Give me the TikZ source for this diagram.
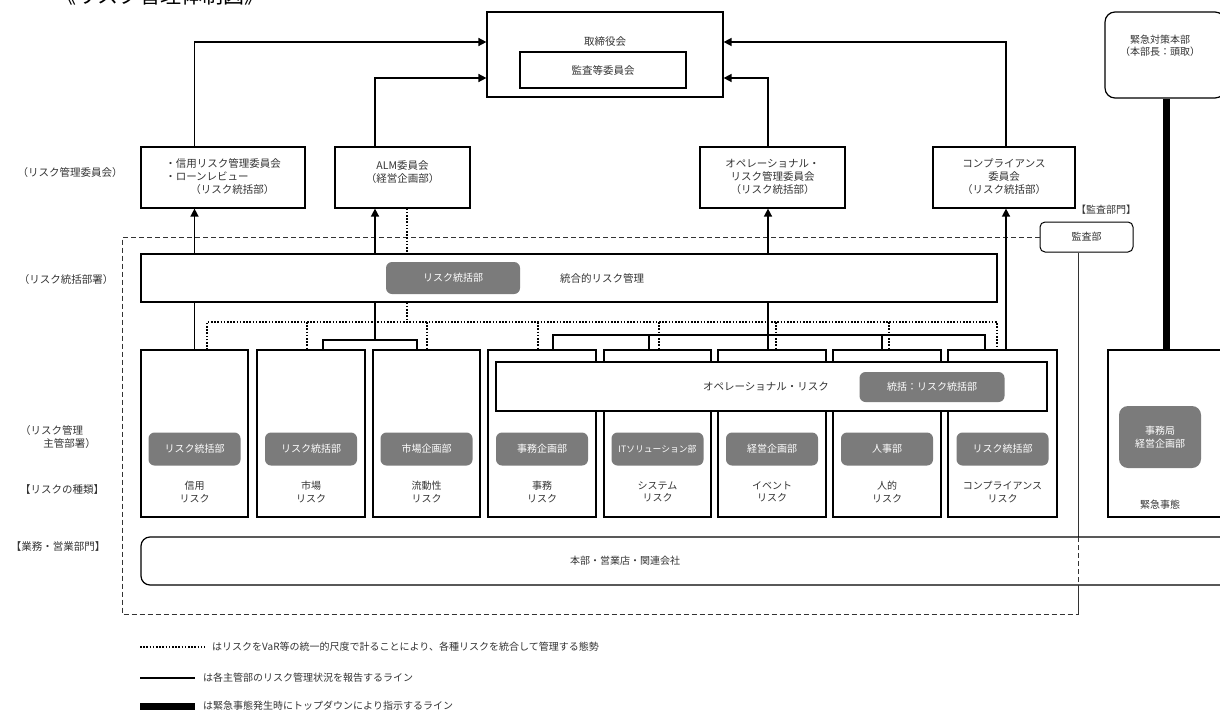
\documentclass[tikz,border=0pt]{standalone}
\usepackage{fontspec}
\setmainfont{Noto Sans CJK JP}
\usetikzlibrary{arrows.meta}
\definecolor{txt}{HTML}{333333}
\definecolor{pillgray}{HTML}{7B7B7B}
\begin{document}
\begin{tikzpicture}[x=1pt,y=-1pt,
  every node/.style={text=txt, font=\fontsize{10}{12.5}\selectfont},
  box/.style={draw=black, line width=1.2pt, fill=white, inner sep=0pt},
  rbox/.style={box, rounded corners=7pt},
  pill/.style={fill=pillgray, rounded corners=6pt, text=white, minimum width=92pt, minimum height=33pt, inner sep=0pt, font=\fontsize{10}{12.5}\selectfont},
  lbl/.style={align=center, inner sep=0pt},
  big/.style={font=\fontsize{10.5}{13}\selectfont},
  rep/.style={line width=1.5pt, draw=black},
  arr/.style={rep, -{Triangle[length=8pt,width=8pt]}},
  dotl/.style={line width=1.7pt, draw=black, dash pattern=on 1.6pt off 1.6pt},
  dashl/.style={line width=0.9pt, draw=black!80, dash pattern=on 5pt off 3pt},
  thick/.style={line width=7pt, draw=black}
]
\useasboundingbox (0,0) rectangle (1220,720);

% title
\node[anchor=base, font=\fontsize{21}{24}\selectfont, text=black] (title) at (160,3) {《リスク管理体制図》};

% board
\node[box, minimum width=236pt, minimum height=85pt] (board) at (605,54.5) {};
\node[lbl, big] (boardlbl) at (605,42) {取締役会};
\node[box, big, minimum width=166pt, minimum height=36pt] (audcomm) at (603,70) {監査等委員会};

% emergency HQ
\node[rbox, rounded corners=10pt, minimum width=120pt, minimum height=86pt] (emerg) at (1165,55) {};
\node[lbl] (emerglbl) at (1160,46) {緊急対策本部\\（本部長：頭取）};

% left labels
\node[lbl, big] (l1) at (70,173) {（リスク管理委員会）};
\node[lbl, big] (l2) at (66,280) {（リスク統括部署）};
\node[lbl, big, align=left] (l3) at (58,437) {（リスク管理\\\hspace*{2.2em}主管部署）};
\node[lbl, big] (l4) at (62,490) {【リスクの種類】};
\node[lbl, big] (l5) at (58,547) {【業務・営業部門】};

% committees
\node[box, minimum width=164pt, minimum height=61pt] (c1) at (223,177.5) {};
\node[lbl, big, align=left] (c1t) at (223,177) {・信用リスク管理委員会\\・ローンレビュー\\\hspace*{2.4em}（リスク統括部）};
\node[box, minimum width=135pt, minimum height=61pt] (c2) at (402.5,177.5) {};
\node[lbl, big] (c2t) at (402.5,172) {ALM委員会\\（経営企画部）};
\node[box, minimum width=145pt, minimum height=61pt] (c3) at (772.5,177.5) {};
\node[lbl, big] (c3t) at (772.5,177) {オペレーショナル・\\リスク管理委員会\\（リスク統括部）};
\node[box, minimum width=142pt, minimum height=61pt] (c4) at (1004,177.5) {};
\node[lbl, big] (c4t) at (1004,177) {コンプライアンス\\委員会\\（リスク統括部）};

% audit dept
\node[lbl] (audlbl) at (1106,210) {【監査部門】};
\node[rbox, line width=1pt, rounded corners=5pt, minimum width=93pt, minimum height=30pt] (audit) at (1086.5,237) {監査部};

% dashed frame
\coordinate (dTL) at (122,237);
\coordinate (dBL) at (122,614);
\coordinate (dBR) at (1078,614);
\draw[dashl] (audit.west) -- (dTL) -- (dBL) -- (dBR) -- (dBR |- audit.south);

% integrated risk band
\node[box, minimum width=856pt, minimum height=48pt] (band) at (569,278) {};
\node[pill, minimum width=134pt, minimum height=32pt] (bandpill) at (453,278) {リスク統括部};
\node[lbl, big] (bandt) at (602,279) {統合的リスク管理};

% risk boxes
\foreach \n/\cx/\w in {r1/194.5/107, r2/311/108, r3/426.5/107, r4/542/108, r5/657.5/107, r6/772/108, r7/887/108, r8/1002.5/109}{
  \node[box, minimum width=\w pt, minimum height=167pt] (\n) at (\cx,433.5) {};
}
\node[box, minimum width=117pt, minimum height=167pt] (r9) at (1166.5,433.5) {};

% pills
\node[pill] (p1) at (194.5,449) {リスク統括部};
\node[pill] (p2) at (311,449) {リスク統括部};
\node[pill] (p3) at (426.5,449) {市場企画部};
\node[pill] (p4) at (542,449) {事務企画部};
\node[pill, font=\fontsize{8.8}{11}\selectfont] (p5) at (657.5,449) {ITソリューション部};
\node[pill] (p6) at (772,449) {経営企画部};
\node[pill] (p7) at (887,449) {人事部};
\node[pill] (p8) at (1002.5,449) {リスク統括部};
\node[pill, minimum width=82pt, minimum height=62pt, align=center, rounded corners=9pt] (p9) at (1160,437) {事務局\\経営企画部};

% risk types
\node[lbl] (t1) at (194.5,492) {信用\\リスク};
\node[lbl] (t2) at (311,492) {市場\\リスク};
\node[lbl] (t3) at (426.5,492) {流動性\\リスク};
\node[lbl] (t4) at (542,492) {事務\\リスク};
\node[lbl] (t5) at (657.5,492) {システム\\リスク};
\node[lbl] (t6) at (772,492) {イベント\\リスク};
\node[lbl] (t7) at (887,492) {人的\\リスク};
\node[lbl] (t8) at (1002.5,492) {コンプライアンス\\リスク};
\node[lbl] (t9) at (1160,505) {緊急事態};

% operational risk band
\node[box, minimum width=551pt, minimum height=49pt] (opband) at (771.5,386.5) {};
\node[lbl, big] (opt) at (766,387) {オペレーショナル・リスク};
\node[pill, minimum width=145pt, minimum height=30pt] (oppill) at (932,387) {統括：リスク統括部};

% business band
\node[rbox, rounded corners=9pt, minimum width=1089pt, minimum height=48pt] (biz) at (685.5,561) {};
\node[lbl] (bizt) at (625,561) {本部・営業店・関連会社};
\draw[dashl] (dBR) -- (dBR |- audit.south);

% coordinates for routing
\coordinate (y42) at (0,42);
\coordinate (y78) at (0,78);
\coordinate (x375) at (375,0);
\coordinate (x768) at (768,0);
\coordinate (x1006) at (1006,0);
\coordinate (x407) at (407,0);

% committees -> board
\draw[arr] (c1.north -| r1.north) |- (board.west |- y42);
\draw[arr] (c2.north -| x375) |- (board.west |- y78);
\draw[arr] (c3.north -| x768) |- (board.east |- y78);
\draw[arr] (c4.north -| x1006) |- (board.east |- y42);

% band -> committees
\draw[arr] (band.north -| r1.north) -- (c1.south -| r1.north);
\draw[arr] (band.north -| x375) -- (c2.south -| x375);
\draw[arr] (band.north -| x768) -- (c3.south -| x768);
\draw[arr] (r8.north -| x1006) -- (c4.south -| x1006);

% ALM dotted
\draw[dotl] (c2.south -| x407) -- (band.north -| x407);
\coordinate (dotY) at (0,322);
\draw[dotl] (band.south -| x407) -- (dotY -| x407);

% dotted distribution
\draw[dotl] (207,350) -- (207,322) -- (997,322) -- (997,350);
\foreach \xx in {307,427,538,659,776,889}{
  \draw[dotl] (\xx,322) -- (\xx,350);
}

% solid report lines below band
\draw[rep] (band.south -| r1.north) -- (r1.north);
\draw[rep] (band.south -| x375) -- (375,340);
\draw[rep] (323,350) |- (417,340) -- (417,350);
\draw[rep] (band.south -| x768) -- (768,335);
\draw[rep] (553,350) |- (985,335) -- (985,350);
\foreach \xx in {649,768,882}{
  \draw[rep] (\xx,335) -- (\xx,350);
}

% emergency thick line
\draw[thick] (emerg.south -| r9.north) -- (r9.north);

% legend
\coordinate (lg1a) at (140,647); \coordinate (lg1b) at (205,647);
\coordinate (lg2a) at (140,678); \coordinate (lg2b) at (195,678);
\coordinate (lg3a) at (140,706); \coordinate (lg3b) at (195,706);
\draw[dotl, line width=1.4pt] (lg1a) -- (lg1b);
\draw[rep, line width=2pt] (lg2a) -- (lg2b);
\draw[thick, line width=7pt] (lg3a) -- (lg3b);
\node[anchor=west, font=\fontsize{10}{12}\selectfont, inner sep=0pt] (lgt1) at (212,647) {はリスクをVaR等の統一的尺度で計ることにより、各種リスクを統合して管理する態勢};
\node[anchor=west, font=\fontsize{10}{12}\selectfont, inner sep=0pt] (lgt2) at (203,678) {は各主管部のリスク管理状況を報告するライン};
\node[anchor=west, font=\fontsize{10}{12}\selectfont, inner sep=0pt] (lgt3) at (203,706) {は緊急事態発生時にトップダウンにより指示するライン};
\end{tikzpicture}
\end{document}
